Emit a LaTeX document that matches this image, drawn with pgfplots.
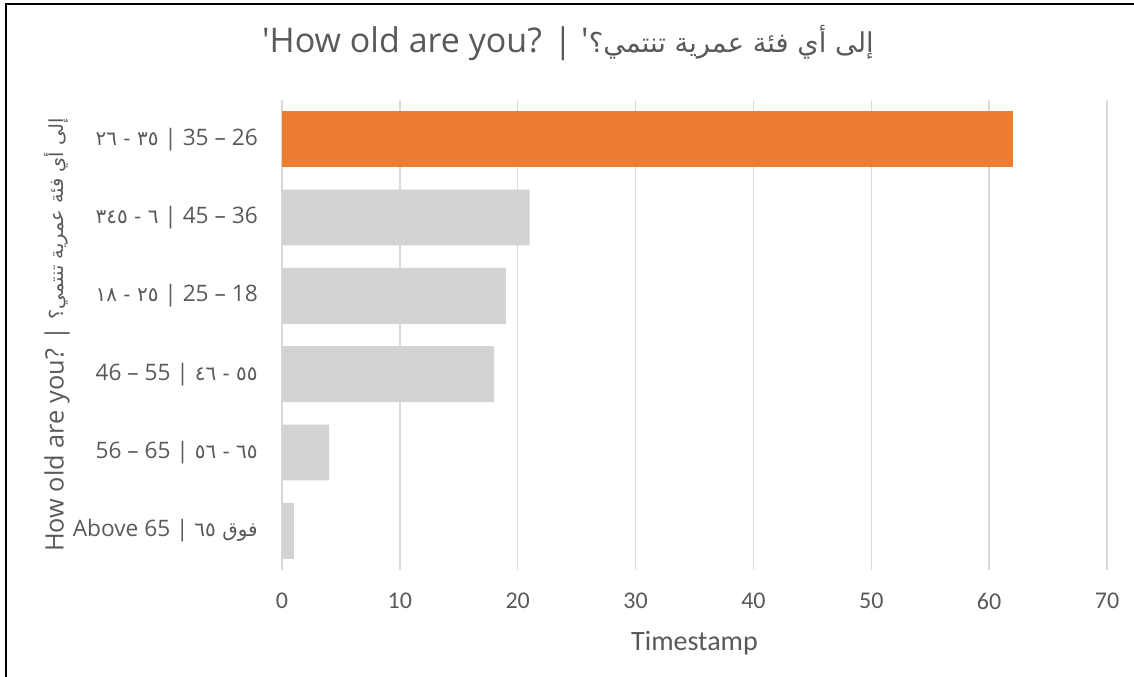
\documentclass[border=0pt]{standalone}
\usepackage{fontspec}
\usepackage{pgfplots}
\pgfplotsset{compat=1.18}
\TeXXeTstate=1
\setmainfont{Open Sans}[Ligatures=TeXOff]
\newfontfamily\calfont{Carlito}
\newfontfamily\arfont[Script=Arabic]{DejaVu Sans}
\definecolor{txt}{HTML}{595959}
\definecolor{org}{HTML}{ED7D31}
\definecolor{gry}{HTML}{D3D3D3}
\definecolor{gridc}{HTML}{D9D9D9}
\begin{document}
\begin{tikzpicture}
\path[use as bounding box] (0,0) rectangle (850.5pt,507.75pt);
\draw[black, line width=1.5pt] (4.5pt,0pt) -- (4.5pt,504.6pt) -- (850.5pt,504.6pt);
\begin{axis}[
  at={(211.5pt,80.25pt)}, anchor=south west,
  scale only axis, width=618.75pt, height=352.5pt,
  xbar, bar width=0.714,
  xmin=0, xmax=70, ymin=-0.5, ymax=5.5,
  xtick={0,10,...,70}, ytick={0,1,2,3,4,5},
  yticklabels={
    {Above 65 | {\arfont\fontsize{15}{18}\selectfont\beginR فوق ٦٥\endR}},
    {56 – 65 | {\arfont\fontsize{15}{18}\selectfont\beginR ٦٥ - ٥٦\endR}},
    {46 – 55 | {\arfont\fontsize{15}{18}\selectfont\beginR ٥٥ - ٤٦\endR}},
    {{\arfont\fontsize{15}{18}\selectfont\beginR ٢٥ - ١٨\endR} | 25 – 18},
    {{\arfont\fontsize{15}{18}\selectfont\beginR ٦ - ٣٤٥\endR} | 45 – 36},
    {{\arfont\fontsize{15}{18}\selectfont\beginR ٣٥ - ٢٦\endR} | 35 – 26}},
  xmajorgrids, major grid style={gridc, line width=1.1pt},
  major tick length=0pt,
  axis line style={draw=none},
  xticklabel style={font=\calfont\fontsize{18}{21}\selectfont, text=txt, anchor=center, yshift=-23.25pt, /pgf/number format/assume math mode=true},
  yticklabel style={font=\fontsize{17}{20}\selectfont, text=txt, anchor=east, inner sep=0pt, xshift=-18pt},
  xlabel={Timestamp},
  xlabel style={font=\calfont\fontsize{21}{24}\selectfont, text=txt, at={(axis description cs:0.5,0)}, anchor=center, yshift=-54.5pt},
  ylabel={How old are you? | {\arfont\fontsize{14.5}{17}\selectfont\beginR إلى أي فئة عمرية تنتمي؟\endR}},
  ylabel style={font=\fontsize{19}{22}\selectfont, text=txt, at={(axis description cs:-0.2727,0.5)}, anchor=center, rotate=0},
  title={'How old are you? | '{\arfont\fontsize{20.5}{24}\selectfont\beginR إلى أي فئة عمرية تنتمي؟\endR}},
  title style={font=\fontsize{25.5}{30}\selectfont, text=txt, at={(axis description cs:0.3467,1.104)}, anchor=center},
]
\addplot[fill=gry, draw=none, bar shift=0pt] coordinates {(21,4) (19,3) (18,2) (4,1) (1,0)};
\addplot[fill=org, draw=none, bar shift=0pt] coordinates {(62,5)};
\end{axis}
\end{tikzpicture}
\end{document}
